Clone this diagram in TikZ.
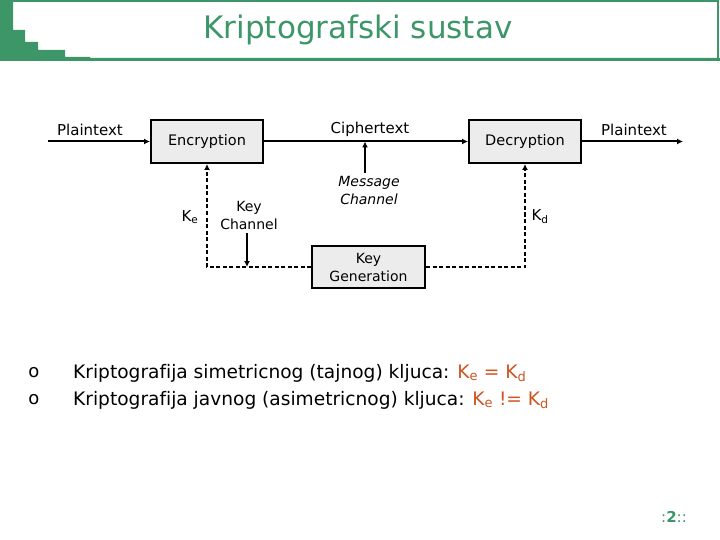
\documentclass[tikz,border=0pt]{standalone}
\usepackage{fontspec}
\setmainfont{DejaVu Sans}[Ligatures=NoCommon]
\usetikzlibrary{arrows.meta}
\definecolor{hdrgreen}{RGB}{60,150,104}
\definecolor{keyorange}{RGB}{204,85,34}
\begin{document}
\begin{tikzpicture}[x=1pt,y=-1pt,
  blok/.style={draw,line width=2pt,fill=gray!15,minimum width=112pt,minimum height=43pt,align=center,font=\fontsize{14.5}{16}\selectfont},
  lbl/.style={font=\fontsize{15}{17}\selectfont,align=center},
  flow/.style={line width=2pt,-{Latex[length=6pt,width=6pt]}},
  keyflow/.style={flow,dash pattern=on 4pt off 2.5pt}]
\useasboundingbox (0,0) rectangle (720,540);
% header
\fill[hdrgreen] (0,0)--(13,0)--(13,30)--(25,30)--(25,42)--(38,42)--(38,50)--(65,50)--(65,57)--(90,57)--(90,58)--(720,58)--(720,61)--(0,61)--cycle;
\draw[hdrgreen,line width=1.5pt] (13,1)--(718,1)--(718,59);
\node[text=hdrgreen,font=\fontsize{31}{34}\selectfont] (title) at (358,30) {Kriptografski sustav};
% blocks
\node[blok] (enc) at (207,141.5) {Encryption};
\node[blok] (dec) at (525,141.5) {Decryption};
\node[blok,minimum width=113pt,minimum height=42pt,inner sep=1pt,font=\fontsize{14}{18}\selectfont] (gen) at (368.5,267) {Key\\Generation};
\coordinate (in) at (48,141.5);
\coordinate (out) at (683,141.5);
\coordinate (msg) at (365,173);
\coordinate (kch) at (247,233);
\draw[flow] (in) -- (enc);
\draw[flow] (enc) -- (dec);
\draw[flow] (dec) -- (out);
\draw[flow] (msg) -- (msg|-enc.east);
\draw[flow] (kch) -- (kch|-gen.west);
\draw[keyflow] (gen.west) -| (enc.south);
\draw[keyflow] (gen.east) -| (dec.south);
% labels
\node[lbl] (ptin) at (90,130) {Plaintext};
\node[lbl] (ct) at (370,129) {Ciphertext};
\node[lbl] (ptout) at (634,130) {Plaintext};
\node[lbl,font=\fontsize{14}{18}\itshape] (mch) at (369,190) {Message\\Channel};
\node[lbl,font=\fontsize{14}{18}\selectfont] (kchl) at (249,215) {Key\\Channel};
\node[lbl] (ke) at (190,217) {K\textsubscript{e}};
\node[lbl] (kd) at (540,217) {K\textsubscript{d}};
% bullets
\foreach \y/\txt in {373/{Kriptografija simetricnog (tajnog) kljuca: \textcolor{keyorange}{K\textsubscript{e} = K\textsubscript{d}}},
                     400/{Kriptografija javnog (asimetricnog) kljuca: \textcolor{keyorange}{K\textsubscript{e} != K\textsubscript{d}}}}{
  \node[font=\fontsize{18}{20}\selectfont] (o\y) at (34,\y) {o};
  \node[anchor=west,font=\fontsize{18.6}{20}\selectfont,inner sep=0pt] (t\y) at (73,\y) {\txt};
}
\node[text=hdrgreen,font=\fontsize{15}{17}\selectfont] (pg) at (674,517) {:\textbf{2}::};
\end{tikzpicture}
\end{document}
